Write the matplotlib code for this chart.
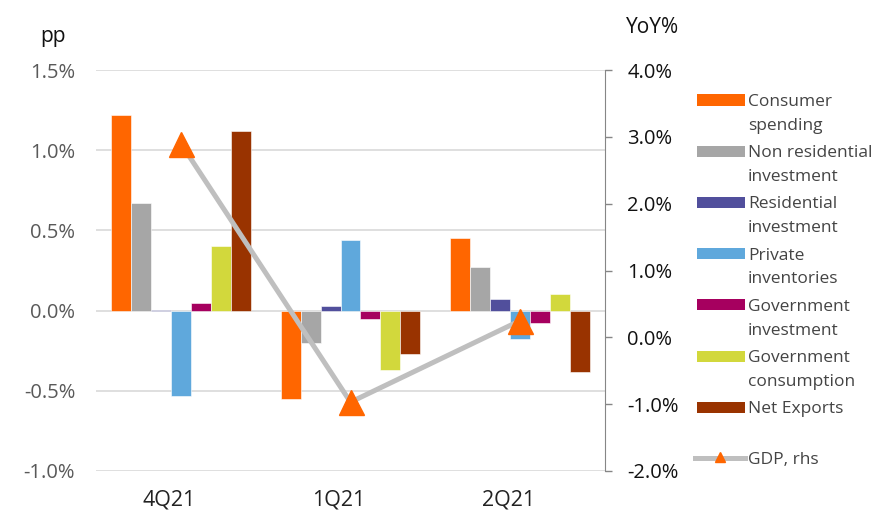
"""
US GDP contributions by component (pp) with headline GDP YoY on the right axis.
"""
import matplotlib.pyplot as plt
import matplotlib.transforms as mtransforms
import numpy as np
from matplotlib.patches import Rectangle
from matplotlib.lines import Line2D
from matplotlib.ticker import FuncFormatter

quarters = ["4Q21", "1Q21", "2Q21"]

series_names = [
    "Consumer\nspending",
    "Non residential\ninvestment",
    "Residential\ninvestment",
    "Private\ninventories",
    "Government\ninvestment",
    "Government\nconsumption",
    "Net Exports",
]

# contributions in percentage points, one list per quarter order above
consumer = [1.22, -0.55, 0.455]
nonres = [0.67, -0.20, 0.27]
residential = [0.005, 0.03, 0.075]
inventories = [-0.53, 0.44, -0.18]
gov_inv = [0.05, -0.055, -0.075]
gov_cons = [0.40, -0.37, 0.105]
net_exports = [1.12, -0.27, -0.38]

gdp_yoy = [2.9, -0.97, 0.25]

colors = ["#FF6600", "#A6A6A6", "#514F9C", "#5FA8DC", "#A6005F", "#D2D83C", "#993300"]

plt.rcParams["font.family"] = ["Open Sans", "DejaVu Sans"]

fig = plt.figure(figsize=(8.81, 5.13), dpi=100)
ax = fig.add_axes([96 / 881, 42 / 513, 509 / 881, 401 / 513])
ax2 = ax.twinx()

x = np.arange(len(quarters))
width = 0.1176
components = [consumer, nonres, residential, inventories, gov_inv, gov_cons, net_exports]
for i, (vals, col) in enumerate(zip(components, colors)):
    ax.bar(x + (i - 3) * width, vals, width, color=col, edgecolor="white",
           linewidth=0.4, zorder=2)

ax.set_xlim(-0.5, 2.5)
ax.set_ylim(-1.0, 1.5)
ax.set_yticks(np.arange(-1.0, 1.51, 0.5))
ax.yaxis.set_major_formatter(FuncFormatter(lambda v, p: f"{v:.1f}%"))
ax.grid(axis="y", color="#D9D9D9", linewidth=1.2, zorder=0)
ax.set_axisbelow(True)
ax.tick_params(axis="y", length=0, pad=15, labelsize=14.5, labelcolor="#595959")
ax.set_xticks(x)
ax.set_xticklabels(quarters)
ax.tick_params(axis="x", length=0, pad=13, labelsize=15.5, labelcolor="#222222")
shift = mtransforms.ScaledTranslation(-0.12, 0, fig.dpi_scale_trans)
for lab in ax.get_xticklabels():
    lab.set_transform(lab.get_transform() + shift)
for s in ax.spines.values():
    s.set_visible(False)

# headline GDP on the secondary axis
ax2.plot(x, gdp_yoy, color="#BFBFBF", linewidth=3.6, marker="^", markersize=18,
         markerfacecolor="#FF6600", markeredgecolor="#FF6600", zorder=3)
ax2.set_ylim(-2.0, 4.0)
ax2.set_yticks(np.arange(-2.0, 4.01, 1.0))
ax2.yaxis.set_major_formatter(FuncFormatter(lambda v, p: f"{v:.1f}%"))
ax2.tick_params(axis="y", length=5, width=1, color="#868686", pad=11,
                labelsize=14.5, labelcolor="#111111")
for name, s in ax2.spines.items():
    s.set_visible(name == "right")
ax2.spines["right"].set_color("#868686")

fig.text(40 / 881, 1 - 42 / 513, "pp", fontsize=15, color="#111111", va="baseline")
fig.text(626 / 881, 1 - 33 / 513, "YoY%", fontsize=15, color="#111111", va="baseline")

# legend drawn by hand so the swatch lines up with the first text line
step = 51.2
for i, (name, col) in enumerate(zip(series_names, colors)):
    yc = 100 + i * step
    fig.patches.append(Rectangle((697 / 881, 1 - (yc + 5.5) / 513), 48 / 881, 11 / 513,
                                 transform=fig.transFigure, facecolor=col,
                                 edgecolor="none"))
    fig.text(748 / 881, 1 - (yc - 6) / 513, name, fontsize=12.5, color="#444444",
             va="top", linespacing=1.65)
yg = 100 + 7 * step
fig.lines.append(Line2D([695 / 881, 745 / 881], [1 - yg / 513] * 2,
                        transform=fig.transFigure, color="#BFBFBF", linewidth=3.6))
fig.lines.append(Line2D([720 / 881], [1 - (yg - 1) / 513], transform=fig.transFigure,
                        marker="^", markersize=7, color="#FF6600", linestyle="none"))
fig.text(748 / 881, 1 - (yg - 6) / 513, "GDP, rhs", fontsize=12.5, color="#444444",
         va="top")

fig.savefig("out.png", dpi=100)
